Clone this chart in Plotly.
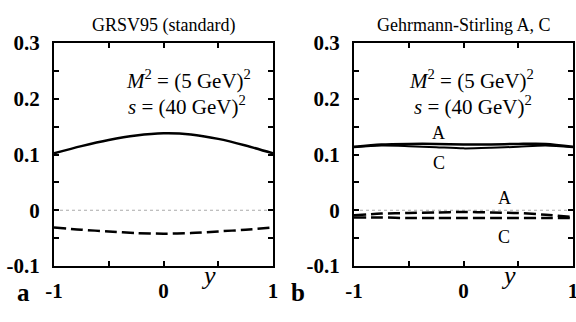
import plotly.graph_objects as go

y_pts = [-1, -0.75, -0.5, -0.25, 0, 0.25, 0.5, 0.75, 1]

# Panel a: GRSV95 (standard)
a_solid = [0.102, 0.115, 0.126, 0.134, 0.138, 0.136, 0.128, 0.116, 0.102]
a_dashed = [-0.031, -0.035, -0.038, -0.041, -0.042, -0.041, -0.038, -0.035, -0.031]

# Panel b: Gehrmann-Stirling A, C
b_solid_A = [0.114, 0.118, 0.119, 0.119, 0.118, 0.118, 0.119, 0.119, 0.114]
b_solid_C = [0.113, 0.116, 0.115, 0.113, 0.111, 0.112, 0.114, 0.116, 0.113]
b_dashed_A = [-0.009, -0.006, -0.005, -0.004, -0.003, -0.004, -0.005, -0.008, -0.012]
b_dashed_C = [-0.013, -0.013, -0.014, -0.014, -0.014, -0.014, -0.014, -0.014, -0.014]

titles = ["GRSV95 (standard)", "Gehrmann-Stirling A, C"]
panel_letters = ["a", "b"]
xtick_vals = [-1, 0, 1]
xtick_text = ["-1", "0", "1"]
ytick_vals = [-0.1, 0, 0.1, 0.2, 0.3]
ytick_text = ["-0.1", "0", "0.1", "0.2", "0.3"]

SERIF = "Liberation Serif"
fig = go.Figure()

def add(x, y, ax, dash=None, width=2.5, color="black"):
    fig.add_trace(go.Scatter(
        x=x, y=y, mode="lines", xaxis="x" + ax, yaxis="y" + ax,
        line=dict(color=color, width=width, dash=dash, shape="spline", smoothing=0.8),
        showlegend=False, hoverinfo="skip"))

for ax in ["", "2"]:
    add([-1, 1], [0, 0], ax, dash="dot", width=1, color="#aaaaaa")

add(y_pts, a_solid, "")
add(y_pts, a_dashed, "", dash="12px,5px")
add(y_pts, b_solid_A, "2")
add(y_pts, b_solid_C, "2", width=2)
add(y_pts, b_dashed_A, "2", dash="12px,5px")
add(y_pts, b_dashed_C, "2", dash="12px,5px")

axis_common = dict(
    showgrid=False, zeroline=False, showline=True, linecolor="black", linewidth=2,
    mirror="ticks", ticks="inside", ticklen=5, tickwidth=1.5, tickcolor="black",
    automargin=False, ticklabeloverflow="allow",
    tickfont=dict(family=SERIF, size=21, color="black", weight="bold"),
)

doms = [[54 / 576, 273 / 576], [354 / 576, 573 / 576]]
ydom = [(322 - 266) / 322, (322 - 43) / 322]

layout = dict(
    width=576, height=322, margin=dict(l=0, r=0, t=0, b=0),
    plot_bgcolor="white", paper_bgcolor="white",
)
for i, ax in enumerate(["", "2"]):
    layout["xaxis" + ax] = dict(
        axis_common, domain=doms[i], range=[-1, 1], tickmode="array",
        tickvals=xtick_vals, ticktext=xtick_text, anchor="y" + ax,
        ticklabelstandoff=5,
        minor=dict(tickmode="linear", tick0=-1, dtick=0.5, ticks="inside", ticklen=5,
                   tickwidth=1.5, tickcolor="black"))
    layout["yaxis" + ax] = dict(
        axis_common, domain=ydom, range=[-0.1, 0.3], tickmode="array",
        tickvals=ytick_vals, ticktext=ytick_text, anchor="x" + ax,
        ticklabelstandoff=8,
        minor=dict(tickmode="linear", tick0=-0.1, dtick=0.05, ticks="inside", ticklen=5,
                   tickwidth=1.5, tickcolor="black"))
fig.update_layout(**layout)

mx = [0.909, 0.83]
sx = [0.886, 0.82]
ann = []
for i, ax in enumerate(["", "2"]):
    xr = "x" + ax + " domain"
    yr = "y" + ax + " domain"
    ann.append(dict(text=titles[i], xref=xr, yref="paper", x=0.5, y=1 - 13 / 322,
                    showarrow=False, font=dict(family=SERIF, size=18, color="black")))
    ann.append(dict(text="<i>M</i><sup>2</sup> = (5 GeV)<sup>2</sup>", xref=xr, yref=yr,
                    x=mx[i], y=0.905, xanchor="right", showarrow=False,
                    font=dict(family=SERIF, size=21, color="black")))
    ann.append(dict(text="<i>s</i> = (40 GeV)<sup>2</sup>", xref=xr, yref=yr,
                    x=sx[i], y=0.79, xanchor="right", showarrow=False,
                    font=dict(family=SERIF, size=21, color="black")))
    ann.append(dict(text="<i>y</i>", xref=xr, yref="paper", x=(218 - 54) / 219,
                    y=1 - 292 / 322, showarrow=False,
                    font=dict(family=SERIF, size=26, color="black")))
    ann.append(dict(text="<b>" + panel_letters[i] + "</b>", xref="paper", yref="paper",
                    x=(15 if i == 0 else 298) / 576, y=1 - 308 / 322, showarrow=False,
                    font=dict(family=SERIF, size=25, color="black")))

# A / C labels in panel b
ann += [
    dict(text="A", xref="x2", yref="y2", x=-0.224, y=0.139, showarrow=False,
         font=dict(family=SERIF, size=18, color="black")),
    dict(text="C", xref="x2", yref="y2", x=-0.224, y=0.085, showarrow=False,
         font=dict(family=SERIF, size=18, color="black")),
    dict(text="A", xref="x2", yref="y2", x=0.37, y=0.022, showarrow=False,
         font=dict(family=SERIF, size=18, color="black")),
    dict(text="C", xref="x2", yref="y2", x=0.37, y=-0.048, showarrow=False,
         font=dict(family=SERIF, size=18, color="black")),
]
fig.update_layout(annotations=ann)

fig.write_html("out.html", config={"displayModeBar": False},
               post_script="document.body.style.margin='0';")
